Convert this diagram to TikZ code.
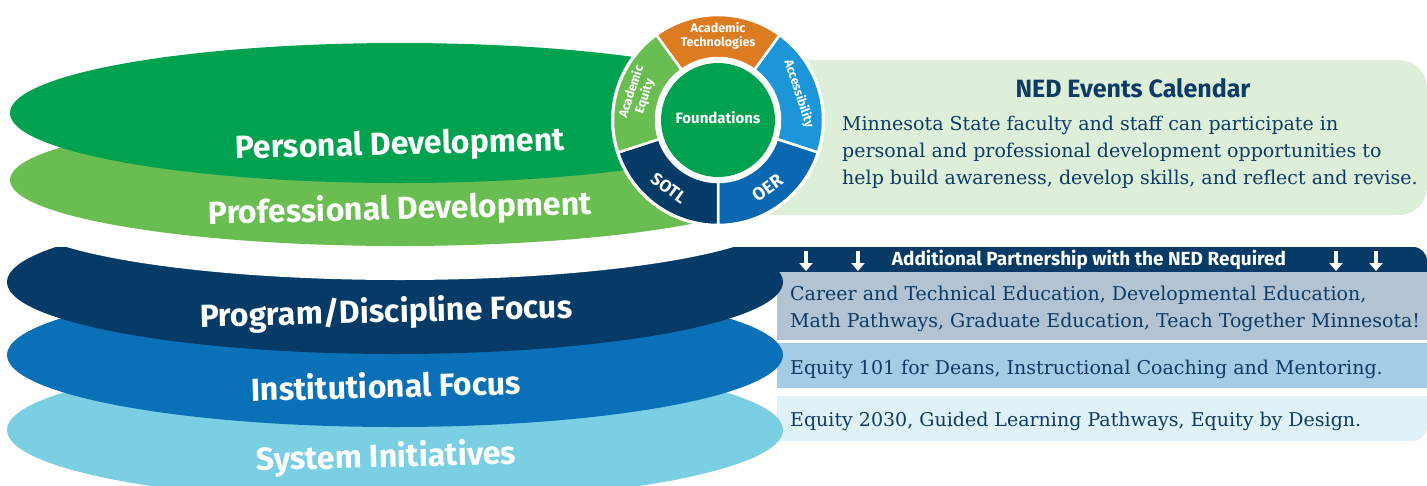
\documentclass[tikz,border=0pt]{standalone}
\usepackage{fontspec}
\setmainfont{DejaVu Serif}
\newfontfamily\labf{Fira Sans}
\usetikzlibrary{arrows.meta}
\definecolor{dgreen}{HTML}{00A14F}
\definecolor{lgreen}{HTML}{6ABD50}
\definecolor{orangec}{HTML}{DC7B20}
\definecolor{accblue}{HTML}{1D96D9}
\definecolor{oerblue}{HTML}{0A68B3}
\definecolor{navyc}{HTML}{053B66}
\definecolor{mblue}{HTML}{0A70B8}
\definecolor{lblue}{HTML}{7ACFE3}
\definecolor{calbg}{HTML}{DDEFD8}
\definecolor{grayc}{HTML}{B2C4D3}
\definecolor{bluebox}{HTML}{A5CCE6}
\definecolor{lightbox}{HTML}{DFF2F8}
\definecolor{navyt}{HTML}{0D3B66}
\tikzset{
  elabel/.style={text=white, font=\labf\bfseries\fontsize{32}{34}\selectfont, inner sep=0pt},
  wtext/.style={text=white, font=\labf\bfseries\fontsize{12.5}{13}\selectfont, align=center, inner sep=0pt},
  serif/.style={text=navyt, font=\fontsize{19}{22}\selectfont, anchor=base west, inner sep=0pt},
  arr/.style={white, line width=4pt, -{Triangle[length=8pt,width=13pt]}},
  segment/.style={draw=white, line width=2.5pt}
}
\begin{document}
\begin{tikzpicture}[x=1pt,y=-1pt]
\useasboundingbox (0,0) rectangle (1427,485);
% right-hand boxes of the lower stack
\fill[navyc, rounded corners=14] (720,247) rectangle (1427,290);
\fill[navyc] (720,247) rectangle (1400,290);
\fill[grayc] (777,272) rectangle (1427,340);
\fill[bluebox] (777,343) rectangle (1427,388);
\fill[lightbox, rounded corners=15] (777,396) rectangle (1427,441);
\fill[lightbox] (777,396) rectangle (1400,441);
\fill[lightbox] (777,396) rectangle (1427,420);
% lower ellipses
\fill[lblue] (395,430) ellipse [x radius=388, y radius=72];
\fill[mblue] (395,355) ellipse [x radius=388, y radius=72];
\begin{scope}
  \clip (0,247) rectangle (800,400);
  \fill[navyc] (395,282) ellipse [x radius=388, y radius=72];
\end{scope}
\fill[white] (400,214) ellipse [x radius=385, y radius=66];
% upper ellipses
\fill[lgreen] (400,180) ellipse [x radius=390, y radius=66];
\fill[dgreen] (400,113) ellipse [x radius=390, y radius=70];
% calendar panel
\fill[calbg, rounded corners=28] (700,60) rectangle (1427,215);
% wheel
\begin{scope}[shift={(718,120)}, y=1pt]
  \fill[white] (0,0) circle[radius=107];
  \foreach \a/\b/\c in {54/126/orangec, -18/54/accblue, -90/-18/oerblue, 198/270/navyc, 126/198/lgreen} {
    \filldraw[segment, fill=\c] (\a:105) arc[start angle=\a, end angle=\b, radius=105] -- (\b:62) arc[start angle=\b, end angle=\a, radius=62] -- cycle;
  }
  \fill[dgreen] (0,0) circle[radius=57];
  \node[wtext, font=\labf\bfseries\fontsize{15}{16}\selectfont] (found) at (0,2) {Foundations};
  \node[wtext] (acadtech) at (90:84) {Academic\\[1pt]Technologies};
  \node[wtext, rotate=-72] (access) at (18:85) {Accessibility};
  \node[wtext, rotate=36, font=\labf\bfseries\fontsize{18}{19}\selectfont] (oer) at (-54:84) {OER};
  \node[wtext, rotate=-36, font=\labf\bfseries\fontsize{17}{18}\selectfont] (sotl) at (234:84) {SOTL};
  \node[wtext, rotate=72] (acadeq) at (162:84) {Academic\\[1pt]Equity};
\end{scope}
% ellipse labels
\node[elabel, rotate=1.5] (pers) at (400,146) {Personal Development};
\node[elabel, rotate=1.5] (prof) at (400,210) {Professional Development};
\node[elabel, rotate=1.5] (prog) at (386,313) {Program/Discipline Focus};
\node[elabel, rotate=1.5] (inst) at (386,385) {Institutional Focus};
\node[elabel, rotate=1.5] (sys) at (386,458) {System Initiatives};
% calendar text
\node[text=navyt, font=\labf\bfseries\fontsize{25}{27}\selectfont, inner sep=0pt] (ned) at (1133,88) {NED Events Calendar};
\node[serif] (cal1) at (842,130) {Minnesota State faculty and staff can participate in};
\node[serif] (cal2) at (842,157) {personal and professional development opportunities to};
\node[serif] (cal3) at (842,184) {help build awareness, develop skills, and reflect and revise.};
% header band
\node[text=white, font=\labf\bfseries\fontsize{19}{20}\selectfont, inner sep=0pt] (partner) at (1089,260) {Additional Partnership with the NED Required};
\foreach \i/\x in {1/806, 2/858, 3/1336, 4/1376} {
  \coordinate (as\i) at (\x,251);
  \coordinate (ae\i) at (\x,271);
  \draw[arr] (as\i) -- (ae\i);
}
% row texts
\node[serif] (prog1) at (790,300) {Career and Technical Education, Developmental Education,};
\node[serif] (prog2) at (790,327) {Math Pathways, Graduate Education, Teach Together Minnesota!};
\node[serif] (inst1) at (790,374) {Equity 101 for Deans, Instructional Coaching and Mentoring.};
\node[serif] (sys1) at (790,426) {Equity 2030, Guided Learning Pathways, Equity by Design.};
\end{tikzpicture}
\end{document}
